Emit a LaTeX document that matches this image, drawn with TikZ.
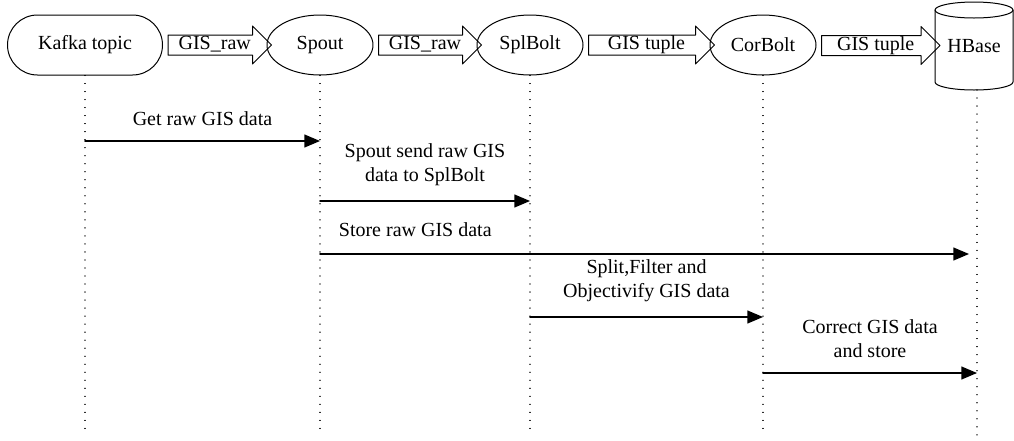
\documentclass[tikz,border=0pt]{standalone}
\usepackage{fontspec}
\setmainfont{Liberation Serif}
\usepackage{tikz}
\usetikzlibrary{arrows,shapes.geometric,shapes.arrows,calc}

% block arrow between two nodes
\newcommand{\flowarrow}[4]{%
  \path let \p1=(#2.east), \p2=(#3.west), \n1={\x2-\x1} in
    node[flow, minimum height=\n1] (#1) at ($(\p1)!0.5!(\p2)$) {#4};}

\begin{document}
\begin{tikzpicture}[line width=0.5pt, line cap=round, line join=round, >=triangle 45, x=0.5pt, y=-0.5pt,
    every node/.style={font=\rmfamily},
    actor/.style={draw, ellipse, minimum width=53pt, minimum height=30pt, inner sep=0pt},
    flow/.style={draw, single arrow, single arrow head extend=4.5pt, inner xsep=1pt, inner ysep=0.5pt, text height=6.5pt, text depth=2pt},
    lifeline/.style={line width=0.6pt, dash pattern=on 0.01pt off 4pt},
    msg/.style={->, line width=0.8pt}]
    \useasboundingbox (0,0) rectangle (1014,440);
    % participants
    \node[draw, rounded corners=15pt, minimum width=77.5pt, minimum height=30pt] (kafka) at (85,45) {Kafka topic};
    \node[actor] (spout) at (320,45) {Spout};
    \node[actor] (splbolt) at (530,45) {SplBolt};
    \node[actor] (corbolt) at (763,45) {CorBolt};
    \node (hbase) at (974,46) {HBase};
    % the database drum
    \coordinate (hbasew) at ($(hbase)+(-39,0)$);
    \draw ($(hbase)+(-39,-36)$) -- ($(hbase)+(-39,36)$)
      arc[start angle=180, end angle=360, x radius=19.5pt, y radius=4pt] -- ($(hbase)+(39,-36)$);
    \draw ($(hbase)+(0,-36)$) ellipse[x radius=19.5pt, y radius=4pt];
    \coordinate (hbases) at ($(hbase)+(3,44)$);
    \flowarrow{f1}{kafka}{spout}{GIS\_raw}
    \flowarrow{f2}{spout}{splbolt}{GIS\_raw}
    \flowarrow{f3}{splbolt}{corbolt}{GIS tuple}
    \flowarrow{f4}{corbolt}{hbasew}{GIS tuple}
    \foreach \n in {kafka.south,spout.south,splbolt.south,corbolt.south,hbases}
      \draw[lifeline] (\n) -- (\n |- 0,435);
    % messages
    \draw[msg] (kafka |- 0,141) -- node[above=4pt] {Get raw GIS data} (spout |- 0,141);
    \draw[msg] (spout |- 0,201) -- node[above=4pt, align=center] {Spout send raw GIS\\data to SplBolt} (splbolt |- 0,201);
    \draw[msg, shorten >=4pt] (spout |- 0,254) -- node[pos=0.145, above=5pt] {Store raw GIS data} (hbases |- 0,254);
    \draw[msg] (splbolt |- 0,317) -- node[above=4pt, align=center] {Split,Filter and\\Objectivify GIS data} (corbolt |- 0,317);
    \draw[msg] (corbolt |- 0,373) -- node[above=4pt, align=center] {Correct GIS data\\and store} (hbases |- 0,373);
\end{tikzpicture}
\end{document}
